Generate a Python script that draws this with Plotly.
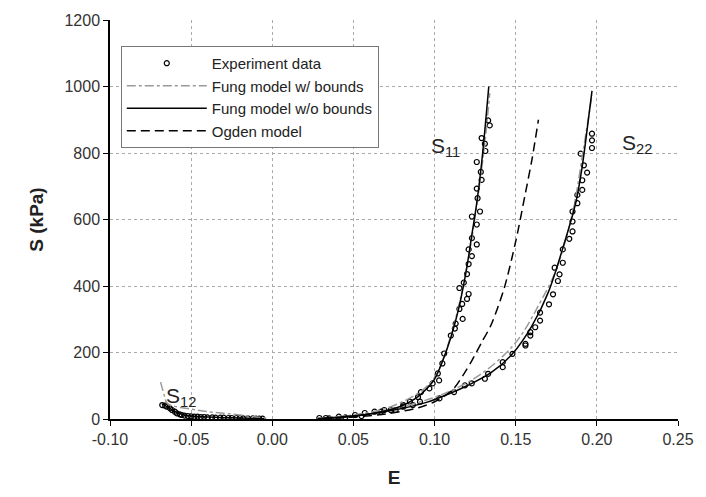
import plotly.graph_objects as go

# ---- Experiment data ----
s11_data_e = [0.029, 0.033, 0.041, 0.051, 0.057, 0.063, 0.069, 0.076, 0.0807, 0.0848, 0.0898, 0.0916, 0.0968,
              0.0988, 0.1028, 0.102, 0.1048, 0.1059, 0.11, 0.1125, 0.113, 0.1173, 0.1153, 0.117, 0.12, 0.121,
              0.1153, 0.118, 0.120, 0.121, 0.123, 0.121, 0.126, 0.123, 0.126, 0.123, 0.128, 0.1265, 0.126,
              0.129, 0.1285, 0.126, 0.1313, 0.131, 0.129, 0.134, 0.133]
s11_data_s = [3, 3, 7, 12, 18, 22, 27, 27, 42, 52, 66, 81, 92,
              107, 116, 137, 167, 197, 251, 272, 287, 301, 331, 346, 361, 376,
              394, 410, 436, 466, 490, 510, 525, 544, 585, 609, 624, 664, 693,
              719, 743, 773, 806, 828, 845, 883, 898]

s22_data_e = [0.035, 0.045, 0.055, 0.067, 0.073, 0.0807, 0.0866, 0.091, 0.103, 0.112, 0.1187, 0.1229, 0.131,
              0.133, 0.142, 0.142, 0.148, 0.156, 0.156, 0.159, 0.159, 0.162, 0.165, 0.165, 0.1705, 0.173,
              0.176, 0.177, 0.174, 0.179, 0.179, 0.183, 0.185, 0.185, 0.185, 0.188, 0.188, 0.191, 0.191,
              0.194, 0.192, 0.190, 0.197, 0.197, 0.197]
s22_data_s = [2, 5, 9, 22, 27, 37, 42, 52, 62, 81, 101, 107, 121,
              136, 156, 171, 196, 221, 226, 251, 261, 276, 296, 320, 345, 375,
              415, 435, 455, 470, 510, 542, 564, 594, 624, 649, 674, 689, 718,
              741, 763, 798, 815, 838, 858]

s12_data_e = [-0.0678, -0.066, -0.0648, -0.063, -0.0618, -0.060, -0.0588, -0.057, -0.0558, -0.054, -0.052,
              -0.050, -0.048, -0.046, -0.044, -0.042, -0.040, -0.037, -0.035, -0.032, -0.030, -0.027,
              -0.025, -0.022, -0.020, -0.018, -0.015, -0.012, -0.010, -0.008, -0.006]
s12_data_s = [42, 40, 37, 32, 27, 22, 17, 14, 12, 10, 9,
              8, 7, 7, 6, 6, 5, 5, 4, 4, 4, 3,
              3, 3, 3, 2, 2, 2, 1, 1, 1]

# ---- Fung model w/o bounds (solid) ----
fung_s11_e = [0.028, 0.04, 0.05, 0.06, 0.07, 0.08, 0.085, 0.09, 0.095, 0.10, 0.105, 0.11, 0.115, 0.12, 0.123, 0.126, 0.129, 0.1334]
fung_s11_s = [1, 4, 8, 15, 25, 40, 52, 68, 90, 120, 175, 245, 335, 460, 555, 650, 770, 1000]
fung_s22_e = [0.028, 0.04, 0.055, 0.075, 0.095, 0.11, 0.12, 0.135, 0.148, 0.16, 0.17, 0.18, 0.187, 0.191, 0.194, 0.197]
fung_s22_s = [1, 5, 12, 27, 50, 78, 100, 140, 196, 280, 380, 530, 650, 760, 870, 987]
fung_s12_e = [-0.068, -0.064, -0.060, -0.055, -0.050, -0.040, -0.030, -0.020, -0.005]
fung_s12_s = [45, 35, 22, 13, 9, 6, 4, 3, 1]

# ---- Fung model w/ bounds (gray dash-dot) ----
fungb_s11_e = [0.028, 0.05, 0.07, 0.09, 0.10, 0.11, 0.12, 0.13, 0.134]
fungb_s11_s = [2, 12, 32, 78, 125, 250, 460, 790, 980]
fungb_s22_e = [0.028, 0.06, 0.09, 0.11, 0.13, 0.15, 0.165, 0.175, 0.185, 0.192, 0.197]
fungb_s22_s = [2, 18, 50, 85, 140, 230, 350, 450, 620, 820, 975]
fungb_s12_e = [-0.0688, -0.0665, -0.0648, -0.060, -0.050, -0.040, -0.030, -0.020, -0.010, -0.003]
fungb_s12_s = [111, 70, 47, 38, 30, 22, 17, 12, 6, 2]

# ---- Ogden model (dashed) ----
ogden_e = [0.030, 0.050, 0.070, 0.090, 0.100, 0.111, 0.118, 0.1229, 0.129, 0.135, 0.143, 0.150, 0.156, 0.160, 0.164]
ogden_s = [1, 6, 15, 34, 52, 87, 135, 175, 230, 285, 395, 534, 680, 780, 900]

# ---- Axis ticks ----
x_tickvals = [-0.10, -0.05, 0.00, 0.05, 0.10, 0.15, 0.20, 0.25]
x_ticktext = ["-0.10", "-0.05", "0.00", "0.05", "0.10", "0.15", "0.20", "0.25"]
y_tickvals = [0, 200, 400, 600, 800, 1000, 1200]

fig = go.Figure()

line_solid = dict(color="black", width=1.5)
line_dashdot = dict(color="#9a9a9a", width=1.5, dash="dashdot")
line_dash = dict(color="black", width=1.5, dash="9px,5px")

for i, (ex, sy) in enumerate([(s11_data_e, s11_data_s), (s22_data_e, s22_data_s), (s12_data_e, s12_data_s)]):
    fig.add_trace(go.Scatter(x=ex, y=sy, mode="markers", name="Experiment data",
                             legendgroup="exp", showlegend=(i == 0),
                             marker=dict(symbol="circle-open", size=5, color="black", line=dict(width=1.2))))

for i, (ex, sy) in enumerate([(fungb_s11_e, fungb_s11_s), (fungb_s22_e, fungb_s22_s), (fungb_s12_e, fungb_s12_s)]):
    fig.add_trace(go.Scatter(x=ex, y=sy, mode="lines", name="Fung model w/ bounds",
                             legendgroup="fb", showlegend=(i == 0), line=dict(**line_dashdot, shape="spline")))

for i, (ex, sy) in enumerate([(fung_s11_e, fung_s11_s), (fung_s22_e, fung_s22_s), (fung_s12_e, fung_s12_s)]):
    fig.add_trace(go.Scatter(x=ex, y=sy, mode="lines", name="Fung model w/o bounds",
                             legendgroup="f", showlegend=(i == 0), line=dict(**line_solid, shape="spline")))

fig.add_trace(go.Scatter(x=ogden_e, y=ogden_s, mode="lines", name="Ogden model",
                         legendgroup="o", line=dict(**line_dash, shape="spline", smoothing=0.8)))

fontfam = "Liberation Sans, Arial, sans-serif"

fig.add_annotation(x=0.1065, y=818, text="S<sub>11</sub>", showarrow=False,
                   font=dict(size=21, color="#222", family=fontfam))
fig.add_annotation(x=0.2250, y=826, text="S<sub>22</sub>", showarrow=False,
                   font=dict(size=21, color="#222", family=fontfam))
fig.add_annotation(x=-0.0560, y=65, text="S<sub>12</sub>", showarrow=False,
                   font=dict(size=21, color="#222", family=fontfam))

fig.update_layout(
    width=706, height=497,
    margin=dict(l=110, r=16, t=16, b=78),
    plot_bgcolor="white", paper_bgcolor="white",
    font=dict(family=fontfam, size=16, color="#222"),
    showlegend=True,
    legend=dict(x=0.019, y=0.935, xanchor="left", yanchor="top",
                bordercolor="#777", borderwidth=1, bgcolor="white",
                font=dict(size=15, color="#222"), itemwidth=80, tracegroupgap=0),
    xaxis=dict(range=[-0.10, 0.25], tickvals=x_tickvals, ticktext=x_ticktext,
               showgrid=True, gridcolor="#aaaaaa", griddash="dot", gridwidth=1,
               showline=True, linecolor="black", linewidth=1.5,
               ticks="outside", ticklen=5, tickcolor="black", zeroline=False,
               tickfont=dict(size=16, color="#333"),
               title=dict(text="<b>E</b>", font=dict(size=19, color="#222"), standoff=24)),
    yaxis=dict(range=[0, 1200], tickvals=y_tickvals,
               showgrid=True, gridcolor="#aaaaaa", griddash="dot", gridwidth=1,
               showline=True, linecolor="black", linewidth=1.5,
               ticks="outside", ticklen=5, tickcolor="black", zeroline=False,
               tickfont=dict(size=16, color="#333"),
               title=dict(text="<b>S (kPa)</b>", font=dict(size=19, color="#222"), standoff=16)),
)

fig.write_html("out.html")
